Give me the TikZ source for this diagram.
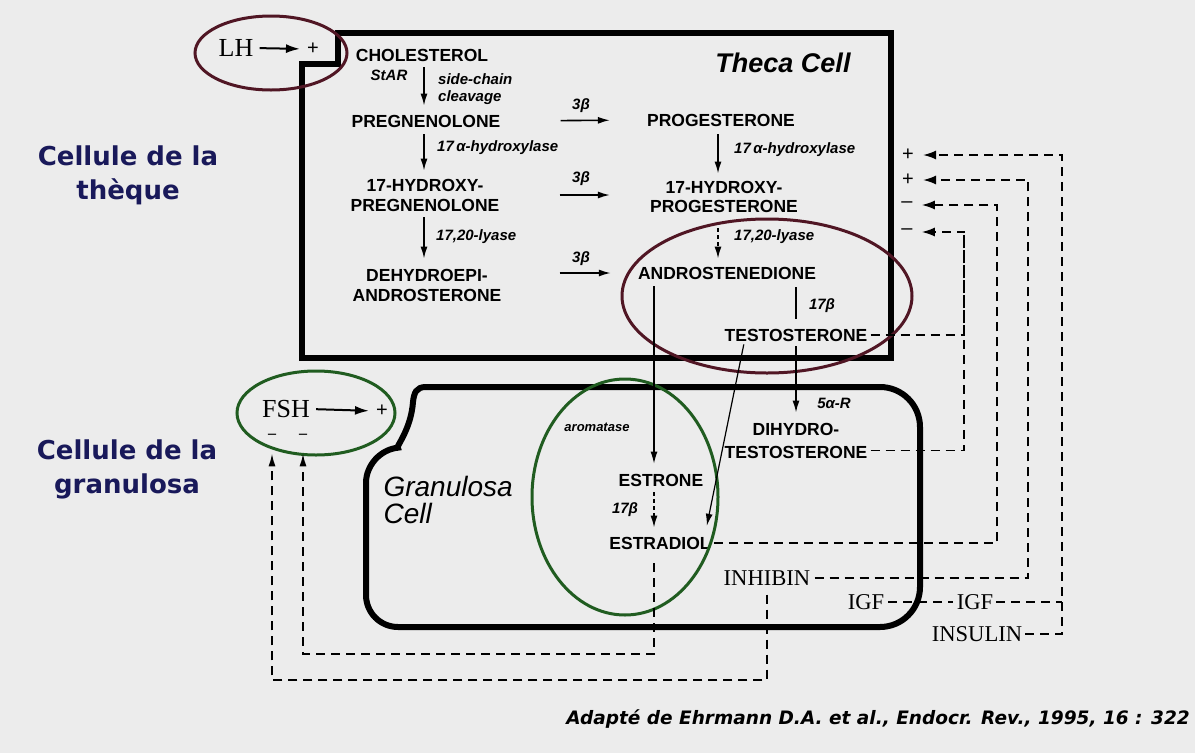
\documentclass[tikz,border=0pt]{standalone}
\usepackage{fontspec}
\setmainfont{Liberation Sans}
\newfontfamily\myhv{Liberation Sans}
\newfontfamily\mytm{Liberation Serif}
\newfontfamily\mydjv{DejaVu Sans}
\usetikzlibrary{arrows.meta,shapes.geometric,calc}
\definecolor{bg}{RGB}{236,236,236}
\definecolor{maroon}{RGB}{80,22,36}
\definecolor{dkgreen}{RGB}{32,92,32}
\definecolor{navy}{RGB}{25,25,90}
\tikzset{
 mol/.style={font=\myhv\bfseries\fontsize{17.5}{20}\selectfont, inner sep=2pt, align=center},
 enz/.style={font=\myhv\bfseries\itshape\fontsize{15}{17}\selectfont, inner sep=1pt},
 ser/.style={font=\mytm\fontsize{22.6}{24}\selectfont, inner sep=1pt},
 big/.style={font=\mytm\fontsize{26}{26}\selectfont, inner sep=0pt, text depth=0pt},
 sgn/.style={font=\myhv\fontsize{20}{20}\selectfont, inner sep=1pt},
 cellbox/.style={line width=6pt, line join=miter},
 oval/.style={ellipse, draw, line width=3pt, inner sep=0pt},
 rx/.style={line width=1.6pt, -{Latex[length=12pt,width=7pt]}},
 dsh/.style={line width=1.8pt, dash pattern=on 9pt off 6pt},
 dsharr/.style={dsh, -{Latex[length=13pt,width=9pt]}},
 side/.style={font=\mydjv\bfseries\fontsize{26}{34}\selectfont, text=navy, align=center},
 undl/.style={font=\mytm\bfseries\fontsize{16}{16}\selectfont, inner sep=0pt},
}
\begin{document}
\begin{tikzpicture}[x=1pt,y=-1pt]
\fill[bg] (0,0) rectangle (1195,753);
\useasboundingbox (0,0) rectangle (1195,753);

% cell outlines
\draw[cellbox] (302,358) -- (302,64) -- (338,64) -- (338,33) -- (891,33) -- (891,358) -- cycle;
\draw[cellbox] (600,387) [rounded corners=40pt] -- (920,387) -- (920,627) [rounded corners=32pt] -- (366,627) -- (366,451) [sharp corners] .. controls (395,448) and (411,430) .. (413,402) .. controls (414,393) and (416,387) .. (426,387) -- (600,387);

% side labels
\node[side] (lblT) at (128,175) {Cellule de la\\thèque};
\node[side] (lblG) at (127,469) {Cellule de la\\granulosa};

% theca text
\node[font=\myhv\bfseries\itshape\fontsize{27}{28}\selectfont] (theca) at (783,63) {Theca Cell};
\node[mol] (chol) at (422,55) {CHOLESTEROL};
\node[enz] (star) at (389,75) {StAR};
\node[enz, anchor=west, align=left] (sidech) at (437,89) {side-chain\\cleavage};
\node[mol] (preg) at (426,121) {PREGNENOLONE};
\node[enz, anchor=west] (hyd1) at (436,148) {17\,α-hydroxylase};
\node[mol] (ohpreg) at (425,195) {17-HYDROXY-\\PREGNENOLONE};
\node[enz, anchor=west] (ly1) at (435,237) {17,20-lyase};
\node[mol] (dhea) at (427,285) {DEHYDROEPI-\\ANDROSTERONE};
\node[mol] (prog) at (721,120) {PROGESTERONE};
\node[enz, anchor=west] (hyd2) at (733,150) {17\,α-hydroxylase};
\node[mol, font=\myhv\bfseries\fontsize{17.5}{19}\selectfont] (ohprog) at (724,196.5) {17-HYDROXY-\\PROGESTERONE};
\node[enz, anchor=west] (ly2) at (733,237) {17,20-lyase};
\node[mol] (andro) at (727,273) {ANDROSTENEDIONE};
\node[enz] (b17a) at (822,306) {17β};
\node[mol] (testo) at (796,335) {TESTOSTERONE};
\node[enz] (b3a) at (581,106) {3β};
\node[enz] (b3b) at (581,179) {3β};
\node[enz] (b3c) at (581,259) {3β};

% granulosa text
\node[font=\myhv\itshape\fontsize{28}{27}\selectfont, anchor=west, align=left] (gran) at (380,500) {Granulosa\\Cell};
\node[enz, font=\myhv\bfseries\itshape\fontsize{13}{15}\selectfont] (arom) at (597,427) {aromatase};
\node[mol] (estrone) at (661,480) {ESTRONE};
\node[enz] (b17b) at (625,510) {17β};
\node[mol] (estradiol) at (660,543) {ESTRADIOL};
\node[enz] (fiveaR) at (834,403) {5α-R};
\node[mol, font=\myhv\bfseries\fontsize{17.5}{23}\selectfont] (dht) at (796,440.5) {DIHYDRO-\\TESTOSTERONE};
\node[ser] (inhibin) at (767,578) {INHIBIN};
\node[ser] (igf1) at (866,602) {IGF};
\node[ser] (igf2) at (975,602) {IGF};
\node[ser] (insulin) at (977,634) {INSULIN};

% signs on right
\node[sgn] (plusA) at (908,155) {+};
\node[sgn] (plusB) at (908,180) {+};
\node[sgn] (minA) at (907,205) {–};
\node[sgn] (minB) at (907,232) {–};

% LH / FSH
\node[big] (lh) at (236,48) {LH};
\node[sgn] (lhp) at (313,49) {+};
\node[big] (fsh) at (286,409) {FSH};
\node[sgn] (fshp) at (382,411) {+};
\node[undl] (mF) at (272,436) {–};
\node[undl] (mH) at (303,436) {–};

% ellipses
\node[oval, draw=maroon, minimum width=152pt, minimum height=74pt] (lhov) at (271,53) {};
\node[oval, draw=dkgreen, minimum width=158pt, minimum height=84pt] (fshov) at (316,413) {};
\node[oval, draw=dkgreen, minimum width=186pt, minimum height=236pt] (grov) at (625,497) {};
\node[oval, draw=maroon, minimum width=290pt, minimum height=154pt] (anov) at (767,296) {};

% columns
\coordinate (c1) at (424,0);
\coordinate (c2) at (718,0);
\coordinate (c3) at (654,0);
\coordinate (c4) at (796,0);
\coordinate (c5) at (744,0);
\coordinate (c6) at (705,0);

% pathway arrows
\draw[rx, shorten <=4pt, shorten >=7pt] (chol.south -| c1) -- (preg.north -| c1);
\draw[rx, shorten <=5pt, shorten >=6pt] (preg.south -| c1) -- (ohpreg.north -| c1);
\draw[rx, shorten <=4pt, shorten >=8pt] (ohpreg.south -| c1) -- (dhea.north -| c1);
\draw[rx, shorten <=6pt, shorten >=5pt] (prog.south -| c2) -- (ohprog.north -| c2);
\draw[rx, dash pattern=on 4pt off 3pt, shorten <=14pt, shorten >=6pt] (ohprog.south -| c2) -- (andro.north -| c2);
\draw[line width=1.6pt, shorten <=6pt, shorten >=8pt] (andro.south -| c4) -- (testo.north -| c4);
\draw[line width=1.2pt, -{Latex[length=12pt,width=7pt]}, shorten <=5pt, shorten >=8pt] (andro.south -| c3) -- (estrone.north -| c3);
\draw[rx, shorten <=3pt, shorten >=8pt] (testo.south -| c4) -- (dht.north -| c4);
\draw[line width=1.2pt, -{Latex[length=12pt,width=7pt]}, shorten <=1pt, shorten >=9pt] (testo.south -| c5) -- (estradiol.north -| c6);
\draw[rx, dash pattern=on 4pt off 3pt, shorten <=4pt, shorten >=7pt] (estrone.south -| c3) -- (estradiol.north -| c3);
\draw[rx, shorten <=58pt, shorten >=35pt] (preg.east) -- (prog.west);
\draw[rx, shorten <=58pt, shorten >=38pt] (ohpreg.east) -- (ohpreg.east -| ohprog.west);
\draw[rx, shorten <=56pt, shorten >=25pt] (dhea.east |- andro.west) -- (andro.west);

% LH / FSH arrows
\draw[line width=2pt, -{Latex[length=14pt,width=9pt]}, shorten <=6pt, shorten >=6pt] (lh.east) -- (lhp.west);
\draw[line width=2pt, -{Latex[length=14pt,width=9pt]}, shorten <=6pt, shorten >=6pt] (fsh.east) -- (fshp.west);

% feedback to theca
\coordinate (busA) at (1062,155);
\coordinate (busB) at (1028,180);
\coordinate (busC) at (997,205);
\coordinate (busD) at (964,232);
\draw[dsharr, shorten <=2pt, shorten >=8pt] (insulin.east) -| (busA) -- (plusA.east);
\draw[dsh, shorten <=2pt] (igf2.east) -- (igf2.east -| busA);
\draw[dsh, shorten <=3pt, shorten >=3pt] (igf1.east) -- (igf2.west);
\draw[dsharr, shorten <=3pt, shorten >=8pt] (inhibin.east) -| (busB) -- (plusB.east);
\draw[dsharr, shorten <=1pt, shorten >=8pt] (estradiol.east) -| (busC) -- (minA.east);
\draw[dsharr, shorten <=1pt, shorten >=8pt] (testo.east) -| (busD) -- (minB.east);
\draw[dsh, shorten <=1pt] ([yshift=-10pt]dht.east) -| (busD);

% feedback to FSH
\coordinate (loA) at (0,654);
\coordinate (loB) at (0,680);
\draw[dsh, -{Latex[length=13pt,width=7pt]}, shorten <=12pt, shorten >=15pt] (estradiol.south -| c3) -- (c3 |- loA) -| (mH.south);
\draw[dsh, -{Latex[length=13pt,width=7pt]}, shorten <=8pt, shorten >=15pt] (inhibin.south) -- (inhibin.south |- loB) -| (mF.south);

% reference
\node[font=\mydjv\bfseries\itshape\fontsize{18.5}{18.5}\selectfont, anchor=east, inner sep=0pt] (ref) at (1190,719) {Adapté de Ehrmann D.A. et al., Endocr. Rev., 1995, 16 : 322};
\end{tikzpicture}
\end{document}
